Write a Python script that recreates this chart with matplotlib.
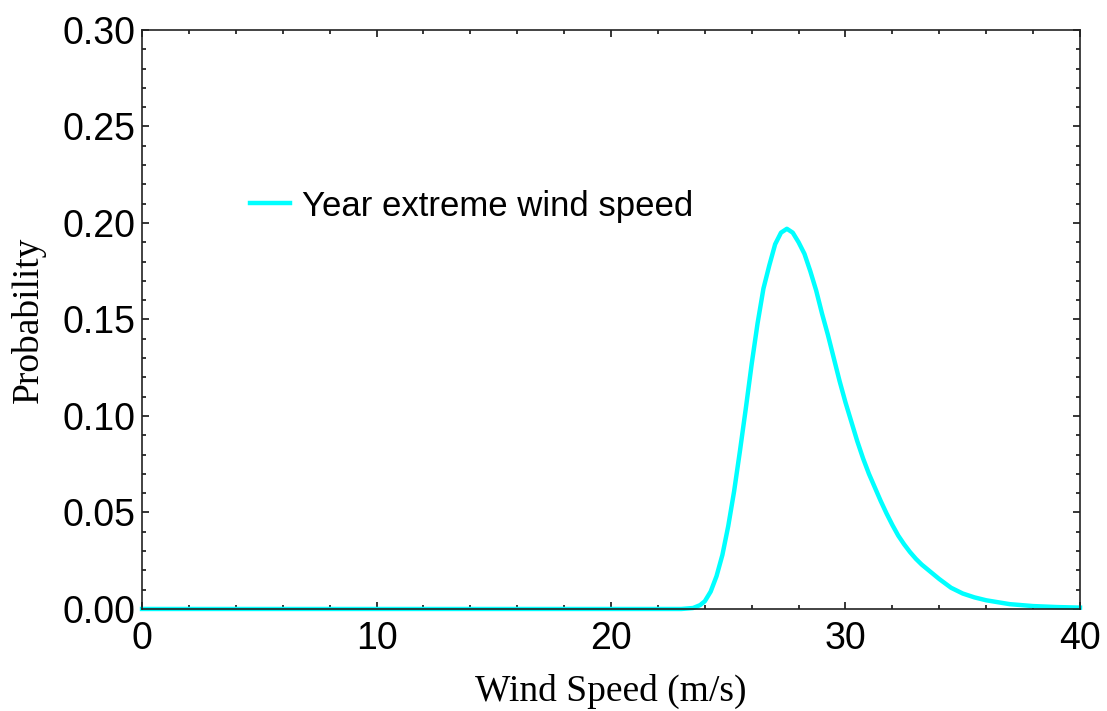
import matplotlib
matplotlib.use("Agg")
import matplotlib.pyplot as plt
from matplotlib.ticker import MultipleLocator

# values
wind_speed = [0, 23.0, 23.5, 23.8, 24.0, 24.25, 24.5, 24.75, 25.0, 25.25,
              25.5, 25.75, 26.0, 26.25, 26.5, 26.75, 27.0, 27.25, 27.5, 27.75,
              28.0, 28.25, 28.5, 28.75, 29.0, 29.25, 29.5, 29.75, 30.0, 30.25,
              30.5, 30.75, 31.0, 31.25, 31.5, 31.75, 32.0, 32.25, 32.5, 32.75,
              33.0, 33.25, 33.5, 34.0, 34.5, 35.0, 35.5, 36.0, 37.0, 38.0,
              39.0, 40.0]
probability = [0, 0, 0.0005, 0.002, 0.004, 0.009, 0.017, 0.028, 0.043, 0.061,
               0.082, 0.104, 0.127, 0.148, 0.166, 0.178, 0.189, 0.195, 0.197, 0.195,
               0.190, 0.184, 0.175, 0.165, 0.153, 0.142, 0.130, 0.118, 0.107, 0.097,
               0.087, 0.078, 0.070, 0.063, 0.056, 0.0495, 0.0435, 0.038, 0.0335, 0.0295,
               0.026, 0.023, 0.0205, 0.0155, 0.011, 0.008, 0.006, 0.0045, 0.0025, 0.0015,
               0.001, 0.0007]

fig = plt.figure(figsize=(11.07, 7.11), dpi=100)
ax = fig.add_axes([0.1283, 0.1435, 0.8473, 0.8143])

ax.plot(wind_speed, probability, color="#00ffff", lw=3.2, label="Year extreme wind speed",
        clip_on=False, solid_joinstyle="round")

ax.set_xlim(0, 40)
ax.set_ylim(0, 0.30)
ax.xaxis.set_major_locator(MultipleLocator(10))
ax.xaxis.set_minor_locator(MultipleLocator(2))
ax.yaxis.set_major_locator(MultipleLocator(0.05))
ax.yaxis.set_minor_locator(MultipleLocator(0.01))
ax.yaxis.set_major_formatter(lambda v, p: f"{v:.2f}")

ax.tick_params(which="both", direction="in", top=True, right=True, width=1.1, colors="black")
ax.tick_params(which="major", length=5)
ax.tick_params(which="minor", length=3)
ax.tick_params(axis="x", which="major", pad=9)
ax.tick_params(axis="y", which="major", pad=5)
for lab in ax.get_xticklabels() + ax.get_yticklabels():
    lab.set_fontfamily("Liberation Sans")
    lab.set_fontsize(27)
for sp in ax.spines.values():
    sp.set_linewidth(1.2)
    sp.set_color("#222222")

ax.set_xlabel("Wind Speed (m/s)", fontfamily="Liberation Serif", fontsize=27, labelpad=12)
ax.set_ylabel("Probability", fontfamily="Liberation Serif", fontsize=27, labelpad=12)

ax.legend(loc="center left", bbox_to_anchor=(0.115, 0.696), frameon=False,
          borderpad=0, borderaxespad=0, handlelength=1.15, handletextpad=0.35,
          prop={"family": "Liberation Sans", "size": 25})

fig.savefig("out.png", dpi=100)
